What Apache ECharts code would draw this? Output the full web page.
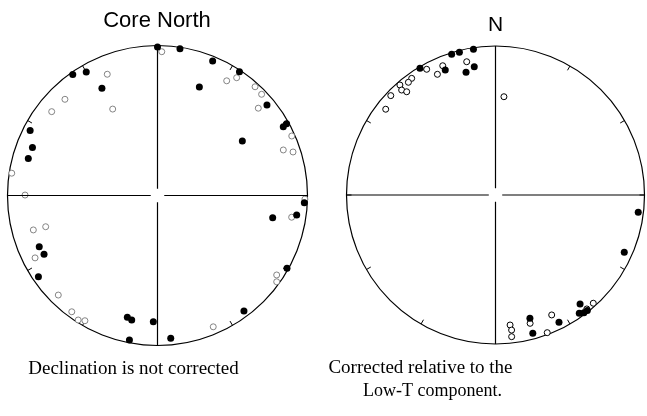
<!DOCTYPE html>
<html>
<head>
<meta charset="utf-8">
<script src="https://cdn.jsdelivr.net/npm/echarts@6/dist/echarts.min.js"></script>
<style>
  html, body { margin: 0; padding: 0; background: #fff; }
  #main { width: 647px; height: 416px; }
</style>
</head>
<body>
<div id="main"></div>
<script>
// declination (deg) and normalised projected distance from centre (0 centre .. 1 rim)
let leftFilledDec = [0, 325, 330, 332.6, 297, 291, 286, 8.7, 22.3, 33.5, 21.1, 50.4, 61.3, 60.9, 57.3,
    246.6, 242.6, 235.7, 193.9, 191.7, 181.9, 191, 92.8, 100.9, 98, 119.3, 143.2, 174.7];
let leftFilledR = [0.99, 0.985, 0.95, 0.805, 0.953, 0.893, 0.896, 0.99, 0.969, 0.99, 0.775, 0.947, 0.956, 0.985, 0.672,
    0.859, 0.852, 0.961, 0.837, 0.848, 0.842, 0.981, 0.98, 0.782, 0.937, 0.99, 0.962, 0.956];
let leftOpenDec = [1.7, 316.1, 308.4, 332.6, 337.5, 270.2, 278.7, 31.1, 33.9, 41.9, 45.8, 49.1, 66.1, 70.1, 72.2, 91.4,
    254.5, 254.4, 243, 224.9, 212.5, 210.1, 216.4, 99.2, 123.7, 125.9, 157];
let leftOpenR = [0.959, 0.89, 0.9, 0.649, 0.875, 0.883, 0.983, 0.893, 0.946, 0.974, 0.968, 0.889, 0.979, 0.892, 0.949, 0.983,
    0.859, 0.774, 0.916, 0.937, 0.984, 0.965, 0.963, 0.906, 0.955, 0.981, 0.951];

let rightFilledDec = [351.4, 345.8, 342.7, 329.2, 338.1, 346.5, 350.6, 96.9, 114, 142.2, 144.7, 143.1, 141.5, 164.4, 153.5, 164.9];
let rightFilledR = [0.99, 0.988, 0.99, 0.99, 0.904, 0.847, 0.873, 0.965, 0.946, 0.926, 0.973, 0.988, 0.99, 0.859, 0.955, 0.961];
let rightOpenDec = [331.3, 334.3, 337.8, 347.8, 324.3, 322.3, 319, 318.2, 319.3, 313.5, 308, 4.9,
    137.9, 141.3, 154.9, 164.9, 159.4, 173.6, 173.5, 173.2];
let rightOpenR = [0.962, 0.899, 0.937, 0.915, 0.964, 0.956, 0.978, 0.945, 0.914, 0.969, 0.935, 0.662,
    0.979, 0.98, 0.889, 0.892, 0.987, 0.878, 0.957, 0.913];

// cross arms: angle, inner end, outer end (left net, right net)
let armAngles = [0, 90, 180, 270];
let leftArmOuter = [1.0, 1.0, 1.025, 1.0];
let rightArmOuter = [1.03, 1.0, 1.025, 1.03];
let armInner = 0.045;

function pairs(decs, rs) {
    return decs.map(function (d, i) { return [rs[i], d]; });
}

let myChart = echarts.init(document.getElementById('main'));

let angleAxisBase = {
    type: 'value',
    min: 0,
    max: 360,
    interval: 30,
    startAngle: 90,
    clockwise: true,
    axisLine: { lineStyle: { color: '#000', width: 1.2 } },
    axisTick: { show: true, inside: true, length: 5, lineStyle: { color: '#000', width: 1 } },
    axisLabel: { show: false },
    splitLine: { show: false }
};
let radiusAxisBase = {
    type: 'value',
    min: 0,
    max: 1,
    axisLine: { show: false },
    axisTick: { show: false },
    axisLabel: { show: false },
    splitLine: { show: false }
};

let series = [];
[leftArmOuter, rightArmOuter].forEach(function (outer, p) {
    armAngles.forEach(function (a, i) {
        series.push({
            type: 'line',
            coordinateSystem: 'polar',
            polarIndex: p,
            clip: false,
            symbol: 'none',
            silent: true,
            lineStyle: { color: '#000', width: 1.2 },
            data: [[armInner, a], [outer[i], a]]
        });
    });
});

series.push({
    type: 'scatter', coordinateSystem: 'polar', polarIndex: 0, clip: false,
    symbolSize: 6,
    itemStyle: { color: '#fff', borderColor: '#777', borderWidth: 0.9, opacity: 1 },
    data: pairs(leftOpenDec, leftOpenR)
});
series.push({
    type: 'scatter', coordinateSystem: 'polar', polarIndex: 0, clip: false,
    symbolSize: 7,
    itemStyle: { color: '#000', opacity: 1 },
    data: pairs(leftFilledDec, leftFilledR)
});
series.push({
    type: 'scatter', coordinateSystem: 'polar', polarIndex: 1, clip: false,
    symbolSize: 6,
    itemStyle: { color: '#fff', borderColor: '#000', borderWidth: 1, opacity: 1 },
    data: pairs(rightOpenDec, rightOpenR)
});
series.push({
    type: 'scatter', coordinateSystem: 'polar', polarIndex: 1, clip: false,
    symbolSize: 7,
    itemStyle: { color: '#000', opacity: 1 },
    data: pairs(rightFilledDec, rightFilledR)
});

let options = {
    backgroundColor: '#fff',
    animation: false,
    polar: [
        { center: [157.5, 195.5], radius: 150 },
        { center: [495.5, 195], radius: 149 }
    ],
    angleAxis: [
        Object.assign({ polarIndex: 0 }, angleAxisBase),
        Object.assign({ polarIndex: 1 }, angleAxisBase)
    ],
    radiusAxis: [
        Object.assign({ polarIndex: 0 }, radiusAxisBase),
        Object.assign({ polarIndex: 1 }, radiusAxisBase)
    ],
    graphic: [
        { type: 'text', x: 157, y: 20.5, style: { text: 'Core North', font: '22px "Liberation Sans"', fill: '#000', textAlign: 'center', textVerticalAlign: 'middle' } },
        { type: 'text', x: 495.5, y: 25.6, style: { text: 'N', font: '21px "Liberation Sans"', fill: '#000', textAlign: 'center', textVerticalAlign: 'middle' } },
        { type: 'text', x: 133.5, y: 369.5, style: { text: 'Declination is not corrected', font: '19px "Liberation Serif"', fill: '#000', textAlign: 'center', textVerticalAlign: 'middle' } },
        { type: 'text', x: 420.5, y: 368.5, style: { text: 'Corrected relative to the', font: '19px "Liberation Serif"', fill: '#000', textAlign: 'center', textVerticalAlign: 'middle' } },
        { type: 'text', x: 432.5, y: 391.5, style: { text: 'Low-T component.', font: '18px "Liberation Serif"', fill: '#000', textAlign: 'center', textVerticalAlign: 'middle' } }
    ],
    series: series
};
myChart.setOption(options);
</script>
</body>
</html>
